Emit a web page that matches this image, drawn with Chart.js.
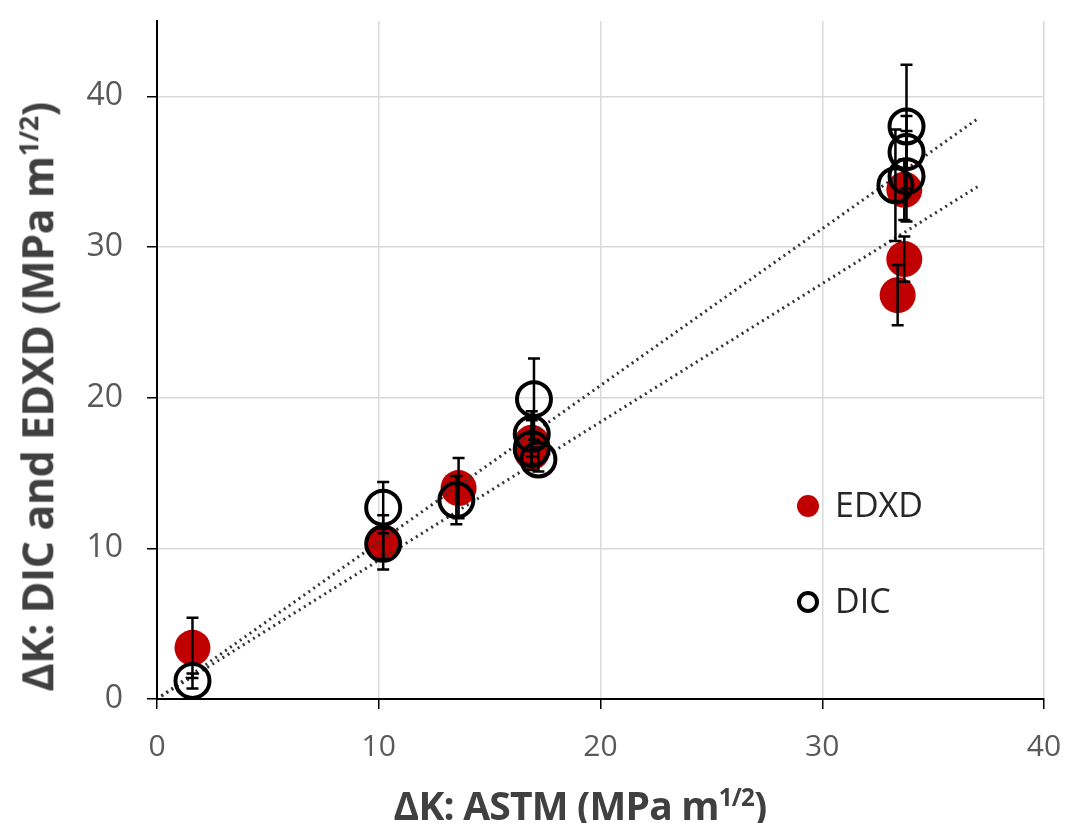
<!DOCTYPE html>
<html>
<head>
<meta charset="utf-8">
<script src="https://cdn.jsdelivr.net/npm/chart.js@4"></script>
<style>
    body { margin: 0; background: #fff; }
    #wrap { position: relative; width: 1065px; height: 823px; }
    .axis-title { position: absolute; font-family: "Open Sans", sans-serif; font-weight: bold; color: #404040; white-space: nowrap; }
    .axis-title sup { font-size: 0.62em; }
    #xTitle { left: 580px; top: 777px; transform: translateX(-50%); font-size: 39px; line-height: 40px; letter-spacing: -0.8px; }
    #yTitle { left: 33px; top: 397px; transform: translate(-50%, -50%) rotate(-90deg); font-size: 43px; line-height: 46px; letter-spacing: -0.5px; }
    .leg { position: absolute; font-family: "Open Sans", sans-serif; font-size: 34px; color: #262626; line-height: 34px; }
    .leg-dot { position: absolute; width: 22px; height: 22px; border-radius: 50%; background: #c00000; }
    .leg-ring { position: absolute; width: 14px; height: 14px; border-radius: 50%; border: 4px solid #000; }
</style>
</head>
<body>
<div id="wrap">
    <canvas id="chart" width="1065" height="823"></canvas>
    <div class="axis-title" id="xTitle">ΔK: ASTM (MPa m<sup>1/2</sup>)</div>
    <div class="axis-title" id="yTitle">ΔK: DIC and EDXD (MPa m<sup>1/2</sup>)</div>
    <span class="leg-dot" style="left:797px; top:495px;"></span>
    <span class="leg" style="left:835px; top:487px;">EDXD</span>
    <span class="leg-ring" style="left:797px; top:591px;"></span>
    <span class="leg" style="left:835px; top:583px;">DIC</span>
</div>
<script>
// データ
const edxdX   = [1.6, 10.2, 13.6, 16.9, 16.9, 33.7, 33.7, 33.4];
const edxdY   = [3.4, 10.4, 14.0, 17.0, 16.4, 33.8, 29.2, 26.8];
const edxdErr = [2.0, 1.8, 2.0, 1.5, 1.2, 2.0, 1.5, 2.0];

const dicX   = [1.6, 10.2, 10.2, 13.5, 17.0, 16.9, 16.9, 17.2, 33.8, 33.8, 33.8, 33.3];
const dicY   = [1.2, 12.7, 10.3, 13.2, 19.9, 17.6, 16.6, 15.9, 38.0, 36.3, 34.7, 34.1];
const dicErr = [0.5, 1.7, 1.0, 1.6, 2.7, 1.5, 1.0, 0.8, 4.1, 2.4, 3.0, 3.7];

// 近似直線（端点）
const trendX     = [0.2, 37];
const dicTrendY  = [0.2, 38.5];
const edxdTrendY = [0.2, 34.0];

const xTicks = [0, 10, 20, 30, 40];
const yTicks = [0, 10, 20, 30, 40];

const toPoints = (xs, ys) => xs.map((x, i) => ({ x: x, y: ys[i] }));

// エラーバーを描画するプラグイン
const errorBarPlugin = {
    id: 'errorBars',
    afterDatasetsDraw(chart) {
        const ctx = chart.ctx;
        const xs = chart.scales.x;
        const ys = chart.scales.y;
        const sets = [[edxdX, edxdY, edxdErr], [dicX, dicY, dicErr]];
        ctx.save();
        ctx.strokeStyle = '#000';
        ctx.lineWidth = 2.5;
        sets.forEach(([xv, yv, ev]) => {
            xv.forEach((x, i) => {
                const px = xs.getPixelForValue(x);
                const top = ys.getPixelForValue(yv[i] + ev[i]);
                const bot = ys.getPixelForValue(yv[i] - ev[i]);
                ctx.beginPath();
                ctx.moveTo(px, top); ctx.lineTo(px, bot);
                ctx.moveTo(px - 6, top); ctx.lineTo(px + 6, top);
                ctx.moveTo(px - 6, bot); ctx.lineTo(px + 6, bot);
                ctx.stroke();
            });
        });
        ctx.restore();
    }
};

function drawChart() {
    new Chart(document.getElementById('chart').getContext('2d'), {
        type: 'scatter',
        data: {
            datasets: [
                {
                    label: 'DIC',
                    data: toPoints(dicX, dicY),
                    pointRadius: 17,
                    pointBackgroundColor: 'rgba(0,0,0,0)',
                    pointBorderColor: '#000',
                    pointBorderWidth: 4,
                    order: 1
                },
                {
                    label: 'DIC fit',
                    type: 'line',
                    data: toPoints(trendX, dicTrendY),
                    borderColor: '#333',
                    borderWidth: 3,
                    borderDash: [2, 4],
                    pointRadius: 0,
                    fill: false,
                    order: 2
                },
                {
                    label: 'EDXD fit',
                    type: 'line',
                    data: toPoints(trendX, edxdTrendY),
                    borderColor: '#333',
                    borderWidth: 3,
                    borderDash: [2, 4],
                    pointRadius: 0,
                    fill: false,
                    order: 3
                },
                {
                    label: 'EDXD',
                    data: toPoints(edxdX, edxdY),
                    pointRadius: 18,
                    pointBackgroundColor: '#c00000',
                    pointBorderColor: '#c00000',
                    pointBorderWidth: 0,
                    order: 4
                }
            ]
        },
        options: {
            responsive: false,
            animation: false,
            layout: { padding: { left: 60, top: 15, right: 21, bottom: 0 } },
            plugins: {
                legend: { display: false },
                tooltip: { enabled: false }
            },
            scales: {
                x: {
                    type: 'linear',
                    min: 0,
                    max: 40,
                    afterBuildTicks: s => { s.ticks = xTicks.map(v => ({ value: v })); },
                    afterFit: s => { s.height = 124; s.paddingLeft = 0; s.paddingRight = 0; },
                    ticks: { font: { family: '"Open Sans", sans-serif', size: 30 }, color: '#595959', padding: 20 },
                    grid: { color: '#d9d9d9', lineWidth: 1.5, tickColor: '#000', tickLength: 10 },
                    border: { color: '#000', width: 2 }
                },
                y: {
                    type: 'linear',
                    min: 0,
                    max: 45,
                    afterBuildTicks: s => { s.ticks = yTicks.map(v => ({ value: v })); },
                    afterFit: s => { s.width = 97; s.paddingTop = 0; s.paddingBottom = 0; },
                    ticks: { font: { family: '"Open Sans", sans-serif', size: 32 }, color: '#595959', padding: 24 },
                    grid: { color: '#d9d9d9', lineWidth: 1.5, tickColor: '#000', tickLength: 10 },
                    border: { color: '#000', width: 2 }
                }
            }
        },
        plugins: [errorBarPlugin]
    });
}

// フォント読み込み後に描画
Promise.all([
    document.fonts.load('30px "Open Sans"'),
    document.fonts.load('32px "Open Sans"')
]).then(drawChart, drawChart);
</script>
</body>
</html>
